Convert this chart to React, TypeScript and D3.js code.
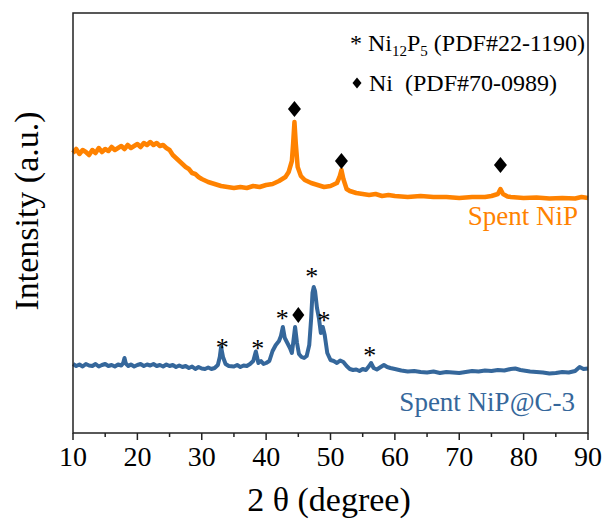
import React from "react";
import * as d3 from "d3";

// ---- Data ----
const orangeX = [10, 10.5, 11, 11.5, 12, 12.5, 13, 13.5, 14, 14.5, 15, 15.5, 16, 16.5, 17, 17.5, 18, 18.5, 19, 19.5, 20, 20.5, 21, 21.5, 22, 22.5, 23, 23.5, 24, 24.5, 25, 25.5, 26, 26.5, 27, 27.5, 28, 28.5, 29, 29.5, 30, 31, 32, 33, 34, 35, 36, 37, 38, 39, 40, 41, 42, 43, 43.5, 44, 44.2, 44.4, 44.6, 44.9, 45.4, 46, 47, 48, 49, 50, 51, 51.4, 51.7, 52, 52.5, 53, 54, 55, 56, 57, 58, 59, 60, 62, 64, 66, 68, 70, 72, 74, 75, 76, 76.4, 76.8, 77.5, 78, 80, 82, 84, 86, 88, 89, 90];
const orangeY = [2800, 2840, 2790, 2830, 2810, 2780, 2830, 2800, 2850, 2810, 2840, 2820, 2860, 2830, 2850, 2870, 2840, 2880, 2850, 2870, 2890, 2860, 2900, 2880, 2910, 2880, 2900, 2870, 2880, 2850, 2830, 2780, 2750, 2720, 2690, 2660, 2640, 2600, 2590, 2560, 2540, 2510, 2490, 2470, 2460, 2450, 2460, 2450, 2470, 2460, 2480, 2490, 2520, 2560, 2610, 2720, 2900, 3110, 2900, 2660, 2570, 2530, 2500, 2480, 2460, 2470, 2500, 2560, 2630, 2540, 2440, 2420, 2400, 2390, 2380, 2390, 2370, 2380, 2370, 2360, 2370, 2360, 2360, 2350, 2360, 2360, 2370, 2390, 2440, 2390, 2365, 2360, 2350, 2355, 2345, 2350, 2345, 2360, 2350];

const blueX = [10, 10.5, 11, 11.5, 12, 12.5, 13, 13.5, 14, 14.5, 15, 15.5, 16, 16.5, 17, 17.5, 17.8, 18, 18.2, 18.6, 19, 19.5, 20, 20.5, 21, 21.5, 22, 22.5, 23, 23.5, 24, 24.5, 25, 25.5, 26, 26.5, 27, 27.5, 28, 28.5, 29, 29.5, 30, 30.5, 31, 31.5, 32, 32.5, 32.8, 33.0, 33.3, 33.7, 34.2, 35, 35.5, 36, 36.5, 37, 37.5, 38, 38.4, 38.8, 39.2, 39.6, 40, 40.5, 41, 41.5, 42, 42.3, 42.6, 42.9, 43.3, 43.7, 44.0, 44.2, 44.5, 44.8, 45.1, 45.5, 45.9, 46.3, 46.7, 47.0, 47.2, 47.4, 47.6, 47.9, 48.2, 48.5, 48.8, 49.1, 49.5, 50, 50.5, 51, 51.5, 52, 52.5, 53, 53.5, 54, 54.5, 55, 55.5, 56, 56.3, 56.7, 57.2, 57.8, 58.3, 58.8, 59.3, 60, 61, 62, 63, 64, 65, 66, 67, 68, 69, 70, 71, 72, 73, 74, 75, 76, 77, 78, 78.7, 79.5, 80, 81, 82, 83, 84, 85, 86, 87, 88, 88.7, 89.3, 90];
const blueY = [690, 670, 685, 665, 690, 675, 670, 690, 665, 680, 690, 670, 680, 665, 685, 675, 700, 750, 695, 670, 685, 665, 680, 690, 670, 685, 675, 690, 670, 680, 665, 685, 670, 680, 660, 675, 660, 670, 650, 665, 640, 660, 645, 640, 655, 640, 650, 680, 760, 860, 760, 690, 670, 665, 680, 660, 675, 670, 690, 720, 815, 700, 720, 690, 700, 720, 820, 880, 920, 970, 1060, 950, 900, 850, 800, 900, 1060, 900, 790, 760, 750, 770, 880, 1150, 1400, 1460, 1420, 1250, 1150, 1000, 1060, 980, 800, 730, 720, 700, 725, 710, 670, 640, 630, 635, 620, 640, 630, 670, 700, 650, 635, 660, 680, 660, 650, 640, 625, 615, 620, 610, 605, 615, 600, 610, 605, 600, 610, 620, 615, 625, 620, 630, 625, 640, 645, 630, 625, 615, 610, 605, 595, 600, 610, 605, 620, 660, 640, 645];

// Peak markers
const niOrangeX = [44.4, 51.7, 76.4];
const niOrangeY = [3240, 2720, 2680];
const niBlueX = [45.0];
const niBlueY = [1180];
const ni12p5X = [33.2, 38.7, 42.5, 47.1, 49.0, 56.1];
const ni12p5Y = [910, 905, 1200, 1620, 1180, 830];

const xTicks = [10, 20, 30, 40, 50, 60, 70, 80, 90];
const xMinorTicks = [15, 25, 35, 45, 55, 65, 75, 85];

const ORANGE = "#FF8200";
const BLUE = "#35679B";
const FONT = "'Liberation Serif', 'Times New Roman', serif";

export default function App() {
  const W = 606, H = 529;
  const left = 73, right = 588, top = 13, bottom = 433;
  const x = d3.scaleLinear().domain([10, 90]).range([left, right]);
  const y = d3.scaleLinear().domain([0, 4200]).range([bottom, top]);

  const line = d3.line<[number, number]>().x(d => x(d[0])).y(d => y(d[1]));
  const orangePath = line(orangeX.map((v, i) => [v, orangeY[i]]) as [number, number][]) || "";
  const bluePath = line(blueX.map((v, i) => [v, blueY[i]]) as [number, number][]) || "";

  const diamond = (cx: number, cy: number, hw: number, hh: number) =>
    `M${cx},${cy - hh}L${cx + hw},${cy}L${cx},${cy + hh}L${cx - hw},${cy}Z`;

  return (
    <svg width={W} height={H} style={{ position: "absolute", left: 0, top: 0, background: "#fff" }} fontFamily={FONT}>
      <rect x={0} y={0} width={W} height={H} fill="#fff" />
      {/* curves */}
      <path d={orangePath} fill="none" stroke={ORANGE} strokeWidth={4.5} strokeLinejoin="round" />
      <path d={bluePath} fill="none" stroke={BLUE} strokeWidth={4} strokeLinejoin="round" />

      {/* frame */}
      <rect x={left} y={top} width={right - left} height={bottom - top} fill="none" stroke="#222" strokeWidth={1.5} />

      {/* x ticks */}
      {xTicks.map(t => (
        <g key={"t" + t}>
          <line x1={x(t)} x2={x(t)} y1={bottom} y2={bottom + 7} stroke="#222" strokeWidth={1.5} />
          <text x={x(t)} y={466} fontSize={28} textAnchor="middle" fill="#000">{t}</text>
        </g>
      ))}
      {xMinorTicks.map(t => (
        <line key={"m" + t} x1={x(t)} x2={x(t)} y1={bottom} y2={bottom + 4} stroke="#222" strokeWidth={1.5} />
      ))}

      {/* axis titles */}
      <text x={329} y={511} fontSize={34} textAnchor="middle" fill="#000">2 θ (degree)</text>
      <text transform={`translate(38,211) rotate(-90)`} fontSize={34} textAnchor="middle" fill="#000">Intensity (a.u.)</text>

      {/* legend */}
      <text x={350} y={51} fontSize={24} fill="#000">
        * Ni<tspan fontSize={15} dy={5}>12</tspan><tspan dy={-5}>P</tspan><tspan fontSize={15} dy={5}>5</tspan><tspan dy={-5}> (PDF#22-1190)</tspan>
      </text>
      <path d={diamond(357, 83, 4.5, 5.5)} fill="#000" />
      <text x={369} y={91} fontSize={24} fill="#000" style={{ whiteSpace: "pre" }}>{"Ni  (PDF#70-0989)"}</text>

      {/* series labels */}
      <text x={578} y={225} fontSize={27} textAnchor="end" fill={ORANGE}>Spent NiP</text>
      <text x={575} y={411} fontSize={27} textAnchor="end" fill={BLUE}>Spent NiP@C-3</text>

      {/* markers */}
      {niOrangeX.map((v, i) => (
        <path key={"no" + i} d={diamond(x(v), y(niOrangeY[i]), 6.5, 8)} fill="#000" />
      ))}
      {niBlueX.map((v, i) => (
        <path key={"nb" + i} d={diamond(x(v), y(niBlueY[i]), 6, 8)} fill="#000" />
      ))}
      {ni12p5X.map((v, i) => (
        <text key={"a" + i} x={x(v)} y={y(ni12p5Y[i]) + 14} fontSize={26} textAnchor="middle" fill="#000">*</text>
      ))}
    </svg>
  );
}
